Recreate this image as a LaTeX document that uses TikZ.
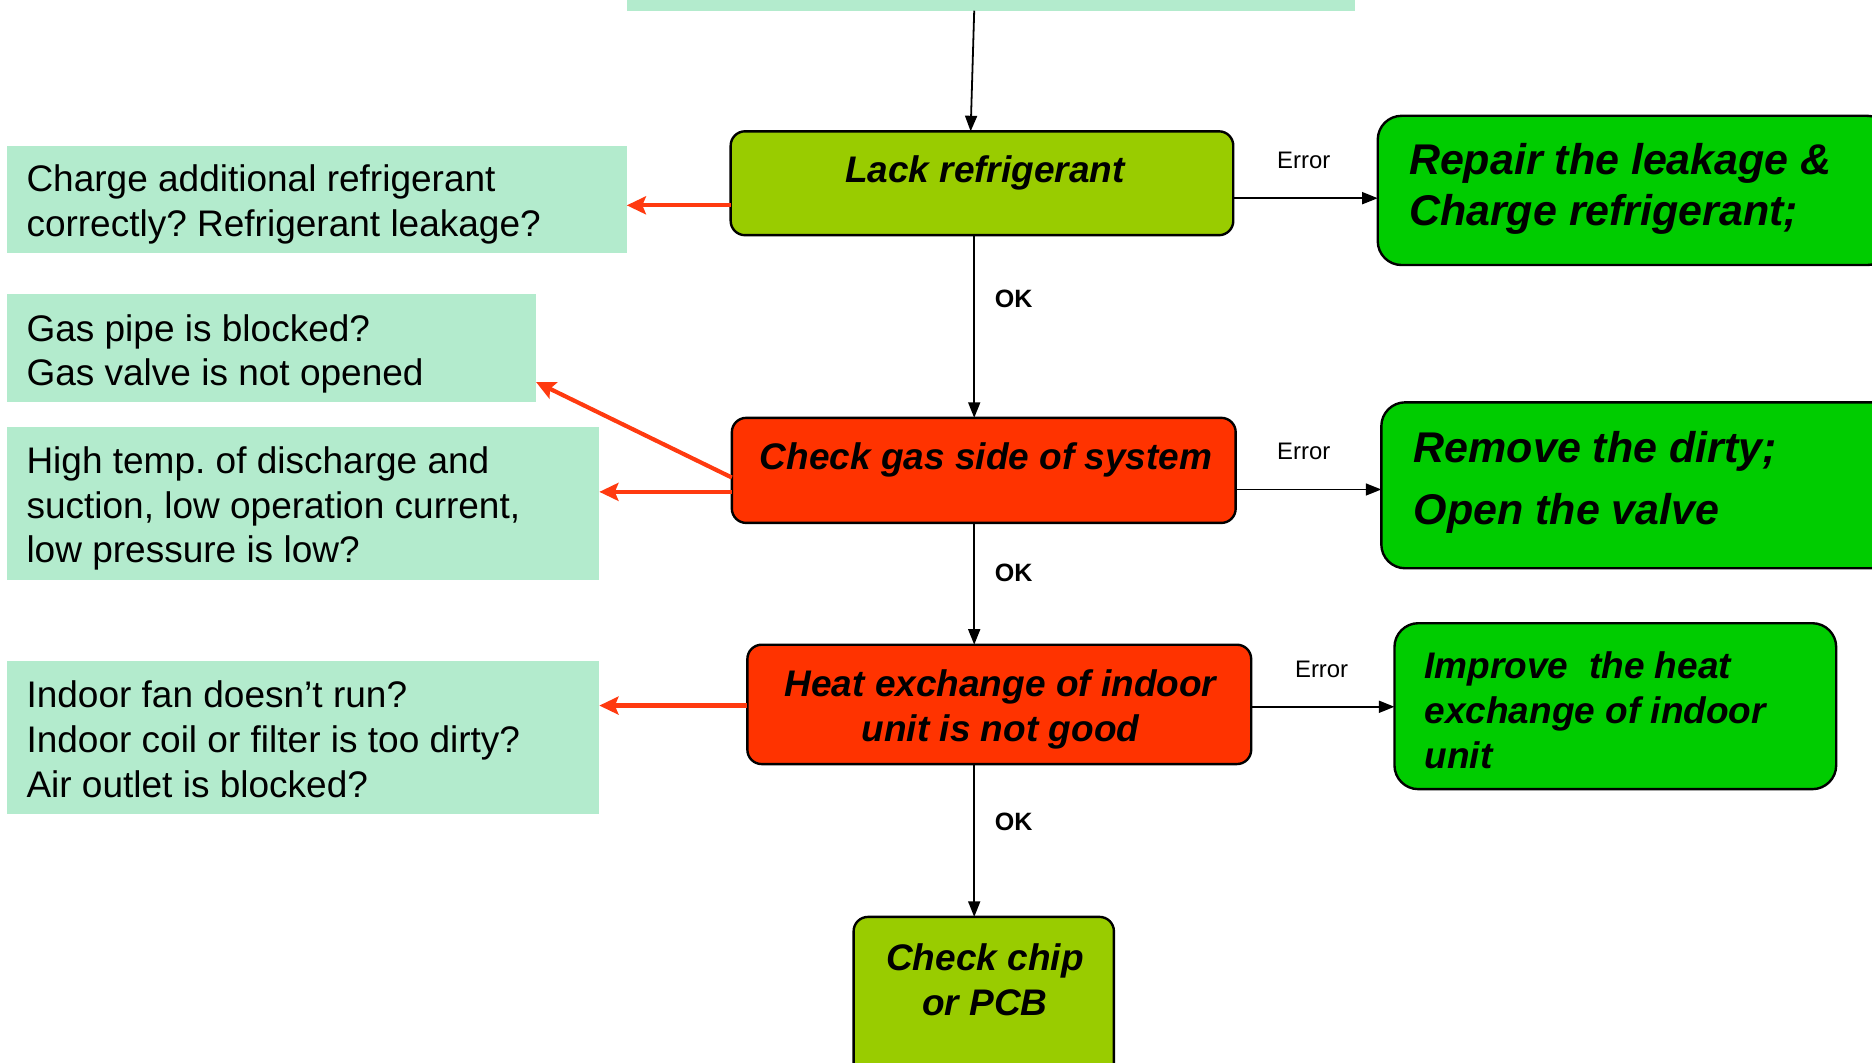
\documentclass[tikz,border=0pt]{standalone}
\usepackage{fontspec}
\setmainfont{Liberation Sans}
\usetikzlibrary{arrows.meta}
\frenchspacing

\definecolor{mintc}{HTML}{B3EBCD}
\definecolor{limec}{HTML}{99CC00}
\definecolor{redc}{HTML}{FF3300}
\definecolor{greenc}{HTML}{00CC00}
\definecolor{arrowred}{HTML}{FF3A10}

\tikzset{
  note/.style={fill=mintc, draw=none, inner sep=0pt, outer sep=0pt, anchor=north west},
  flowbox/.style={draw=black, line width=2pt, rounded corners=12pt, inner sep=0pt, outer sep=0pt, anchor=north west},
  fixbox/.style={flowbox, fill=greenc, rounded corners=20pt},
  notetext/.style={anchor=west, align=left, inner sep=0pt, font=\fontsize{31}{37.5}\selectfont},
  boxtext/.style={align=center, inner sep=0pt, font=\fontsize{31}{37.5}\selectfont\bfseries\itshape},
  fixtext/.style={anchor=west, align=left, inner sep=0pt, font=\fontsize{36}{43}\selectfont\bfseries\itshape},
  oklabel/.style={inner sep=0pt, font=\fontsize{21}{25}\selectfont\bfseries},
  errlabel/.style={inner sep=0pt, font=\fontsize{20}{24}\selectfont},
  blk/.style={draw=black, line width=1.5pt, -{Triangle[length=13pt,width=10pt]}},
  redarrow/.style={draw=arrowred, line width=3.5pt, -{Stealth[length=16pt,width=15pt,inset=3pt]}}
}

\begin{document}
\begin{tikzpicture}[x=1pt, y=-1pt]
  \useasboundingbox (0,0) rectangle (1568,890);

  % cause notes on the left
  \node[note, minimum width=610pt, minimum height=40pt] (top) at (525,-31) {};
  \node[note, minimum width=519pt, minimum height=90pt] (m1) at (6,122) {};
  \node[note, minimum width=443pt, minimum height=91pt] (m2) at (6,246) {};
  \node[note, minimum width=496pt, minimum height=128pt] (m3) at (6,358) {};
  \node[note, minimum width=496pt, minimum height=128pt] (m4) at (6,554) {};

  \node[notetext] (t1) at (22,171.5) {Charge additional refrigerant\\correctly? Refrigerant leakage?};
  \node[notetext] (t2) at (22,296.5) {Gas pipe is blocked?\\Gas valve is not opened};
  \node[notetext] (t3) at (22,426) {High temp. of discharge and\\suction, low operation current,\\low pressure is low?};
  \node[notetext] (t4) at (22,619) {Indoor fan doesn’t run?\\Indoor coil or filter is too dirty?\\Air outlet is blocked?};

  % main check sequence
  \node[flowbox, fill=limec, minimum width=421pt, minimum height=87pt] (lack) at (612,110) {};
  \node[flowbox, fill=redc, minimum width=422pt, minimum height=88pt] (gas) at (613,350) {};
  \node[flowbox, fill=redc, minimum width=422pt, minimum height=100pt] (heat) at (626,540) {};
  \node[flowbox, fill=limec, minimum width=218pt, minimum height=140pt] (chip) at (715,768) {};

  \node[boxtext] (lackt) at (825,145) {Lack refrigerant};
  \node[boxtext] (gast) at (826,385) {Check gas side of system};
  \node[boxtext] (heatt) at (838,594) {Heat exchange of indoor\\unit is not good};
  \node[boxtext] (chipt) at (825,820.5) {Check chip\\or PCB};

  % remedies on the right
  \node[fixbox, minimum width=430pt, minimum height=125pt] (repair) at (1154,97) {};
  \node[fixbox, minimum width=430pt, minimum height=139pt] (remove) at (1157,337) {};
  \node[fixbox, minimum width=370pt, minimum height=139pt] (improve) at (1168,522) {};

  \node[fixtext] (repairt) at (1180,158) {Repair the leakage \&\\Charge refrigerant;};
  \node[fixtext, font=\fontsize{36}{52}\selectfont\bfseries\itshape] (removet) at (1184,404) {Remove the dirty;\\Open the valve};
  \node[fixtext, font=\fontsize{31}{37.5}\selectfont\bfseries\itshape] (improvet) at (1193,595) {Improve\ \ the heat\\exchange of indoor\\unit};

  % connector guide lines
  \coordinate (spine) at (816,0);
  \coordinate (e1) at (0,166);
  \coordinate (e2) at (0,410);
  \coordinate (e3) at (0,592);
  \coordinate (r1) at (0,172);
  \coordinate (r2a) at (0,400);
  \coordinate (r2b) at (0,320);
  \coordinate (r3) at (0,412);
  \coordinate (r4) at (0,591);

  % vertical flow
  \draw[blk] ([xshift=-14pt]top.south) -- ([xshift=-9.5pt]lack.north);
  \draw[blk] (lack.south -| spine) -- (gas.north -| spine);
  \draw[blk] (gas.south -| spine) -- (heat.north -| spine);
  \draw[blk] (heat.south -| spine) -- (chip.north -| spine);

  \node[oklabel] (ok1) at (849,250) {OK};
  \node[oklabel] (ok2) at (849,480) {OK};
  \node[oklabel] (ok3) at (849,688) {OK};

  % error branches
  \draw[blk] (lack.east |- e1) -- (repair.west |- e1);
  \draw[blk] (gas.east |- e2) -- (remove.west |- e2);
  \draw[blk] (heat.east |- e3) -- (improve.west |- e3);

  \node[errlabel] (err1) at (1092,134) {Error};
  \node[errlabel] (err2) at (1092,378) {Error};
  \node[errlabel] (err3) at (1107,561) {Error};

  % possible causes
  \draw[redarrow] (lack.west |- r1) -- (m1.east |- r1);
  \draw[redarrow] (gas.west |- r2a) -- (m2.east |- r2b);
  \draw[redarrow] (gas.west |- r3) -- (m3.east |- r3);
  \draw[redarrow] (heat.west |- r4) -- (m4.east |- r4);
\end{tikzpicture}
\end{document}
